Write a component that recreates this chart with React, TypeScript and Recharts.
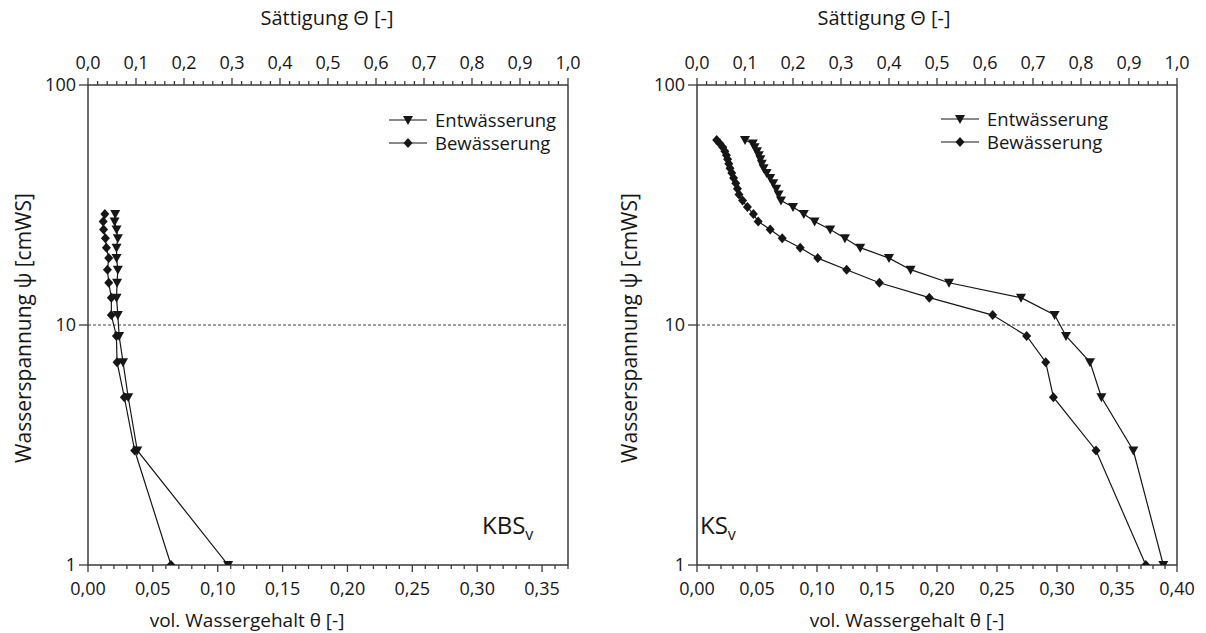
import { ScatterChart, Scatter, XAxis, YAxis, ReferenceLine } from 'recharts'

// Wasserspannung psi [cmWS] at which the points were measured
const psiKBS = [1, 3, 5, 7, 9, 11, 13, 15, 17, 19, 21, 23, 25, 27, 29]
const entKBS = [0.108, 0.038, 0.031, 0.027, 0.024, 0.023, 0.022, 0.0224, 0.023, 0.022, 0.022, 0.023, 0.022, 0.0205, 0.021]
const bewKBS = [0.064, 0.036, 0.028, 0.0224, 0.0219, 0.018, 0.018, 0.016, 0.015, 0.016, 0.0142, 0.0134, 0.012, 0.0117, 0.013]

const psiKS = [1, 3, 5, 7, 9, 11, 13, 15, 17, 19, 21, 23, 25, 27, 29, 31, 33, 35, 37, 39, 41, 43, 45, 47, 49, 51, 53, 55, 57, 59]
const entKS = [
  0.3886, 0.3636, 0.337, 0.3275, 0.3075, 0.298, 0.27, 0.21, 0.178, 0.16, 0.136, 0.1233, 0.111, 0.098, 0.089,
  0.08, 0.07, 0.068, 0.066, 0.0635, 0.061, 0.058, 0.0555, 0.054, 0.0528, 0.0515, 0.05, 0.048, 0.0465, 0.04,
]
const bewKS = [
  0.374, 0.3325, 0.297, 0.2906, 0.2747, 0.2464, 0.1936, 0.152, 0.1247, 0.1006, 0.086, 0.071, 0.061, 0.051, 0.047,
  0.042, 0.038, 0.035, 0.0337, 0.0323, 0.0305, 0.029, 0.0275, 0.0265, 0.0255, 0.0245, 0.0232, 0.0215, 0.019, 0.0164,
]

const yTicks = [1, 10, 100]
// Sättigung scale runs 0..1 on the top axis
const satRange = [0, 1]

const FONT = '"Open Sans", sans-serif'
const AX = '#3a3a3a'
const INK = '#161616'

const fmt = (v: number, d: number) => v.toFixed(d).replace('.', ',')

// minor ticks between majors
function withMinors(max: number, step: number) {
  const out: number[] = []
  for (let i = 0; i * step <= max + 1e-9; i++) out.push(+(i * step).toFixed(4))
  return out
}
const isMult = (v: number, m: number) => Math.abs(v / m - Math.round(v / m)) < 1e-6

function BottomTick(props: any) {
  const { x, y, payload } = props
  const v = payload.value as number
  const major = isMult(v, 0.05)
  return (
    <g>
      <line x1={x} x2={x} y1={y} y2={y + (major ? 7 : 4)} stroke={AX} strokeWidth={1.3} />
      {major && (
        <text x={x} y={y + 30} textAnchor="middle" fontSize={18} fill={INK} fontFamily={FONT}>
          {fmt(v, 2)}
        </text>
      )}
    </g>
  )
}

function TopTick(props: any) {
  const { x, y, payload } = props
  const v = payload.value as number
  const major = isMult(v, 0.1)
  return (
    <g>
      <line x1={x} x2={x} y1={y} y2={y - (major ? 7 : 4)} stroke={AX} strokeWidth={1.3} />
      {major && (
        <text x={x} y={y - 16} textAnchor="middle" fontSize={18} fill={INK} fontFamily={FONT}>
          {fmt(v, 1)}
        </text>
      )}
    </g>
  )
}

function TriDown({ cx, cy }: any) {
  return <path d={`M${cx - 5},${cy - 4}L${cx + 5},${cy - 4}L${cx},${cy + 5}Z`} fill={INK} />
}

function Diamond({ cx, cy }: any) {
  return <path d={`M${cx},${cy - 5}L${cx + 4.5},${cy}L${cx},${cy + 5}L${cx - 4.5},${cy}Z`} fill={INK} />
}

function Nothing() {
  return <g />
}

function LegendBox({ left, top }: { left: number; top: number }) {
  const row = (label: string, marker: 'tri' | 'dia') => (
    <div style={{ display: 'flex', alignItems: 'center', height: 23 }}>
      <svg width={40} height={14} style={{ marginRight: 6 }}>
        <line x1={0} x2={38} y1={7} y2={7} stroke={INK} strokeWidth={1.2} />
        {marker === 'tri' ? <TriDown cx={19} cy={7} /> : <Diamond cx={19} cy={7} />}
      </svg>
      <span style={{ lineHeight: '21px' }}>{label}</span>
    </div>
  )
  return (
    <div style={{ position: 'absolute', left, top, fontFamily: FONT, fontSize: 18.5, color: INK }}>
      {row('Entwässerung', 'tri')}
      {row('Bewässerung', 'dia')}
    </div>
  )
}

function Txt({ x, y, children, rotate, size = 20 }: any) {
  return (
    <div
      style={{
        position: 'absolute',
        left: x,
        top: y,
        transform: `translate(-50%, -50%)${rotate ? ' rotate(-90deg)' : ''}`,
        whiteSpace: 'nowrap',
        fontFamily: FONT,
        fontSize: size,
        lineHeight: 1.1,
        color: INK,
      }}
    >
      {children}
    </div>
  )
}

interface PanelProps {
  psi: number[]
  ent: number[]
  bew: number[]
  xMax: number
  width: number
  left: number
  right: number
}

function Panel({ psi, ent, bew, xMax, width, left, right }: PanelProps) {
  const entData = psi.map((p, i) => ({ theta: ent[i], psi: p }))
  const bewData = psi.map((p, i) => ({ theta: bew[i], psi: p }))
  // anchors the top axis so that it gets its 0..1 scale
  const satData = satRange.map((s) => ({ sat: s, psi: 1 }))
  return (
    <ScatterChart width={width} height={633} margin={{ top: 0, right, bottom: 28, left }}>
      <XAxis
        xAxisId="b"
        dataKey="theta"
        type="number"
        domain={[0, xMax]}
        ticks={withMinors(xMax, 0.01)}
        interval={0}
        tick={(p: any) => <BottomTick {...p} />}
        tickLine={false}
        tickSize={0}
        tickMargin={0}
        axisLine={{ stroke: AX, strokeWidth: 1.5 }}
        height={40}
        allowDataOverflow
      />
      <XAxis
        xAxisId="t"
        dataKey="sat"
        orientation="top"
        type="number"
        domain={[0, 1]}
        ticks={withMinors(1, 0.02)}
        interval={0}
        tick={(p: any) => <TopTick {...p} />}
        tickLine={false}
        tickSize={0}
        tickMargin={0}
        axisLine={{ stroke: AX, strokeWidth: 1.5 }}
        height={85}
        allowDataOverflow
      />
      <YAxis
        yAxisId="l"
        dataKey="psi"
        type="number"
        scale="log"
        domain={[1, 100]}
        ticks={yTicks}
        interval={0}
        allowDataOverflow
        width={60}
        tickSize={9}
        tickMargin={3}
        tick={{ fill: INK, fontSize: 18, fontFamily: FONT }}
        tickLine={{ stroke: AX, strokeWidth: 1.3 }}
        axisLine={{ stroke: AX, strokeWidth: 1.5 }}
      />
      <ReferenceLine xAxisId="b" yAxisId="l" y={10} stroke="#444" strokeWidth={1.1} strokeDasharray="3 2" />
      <ReferenceLine xAxisId="b" yAxisId="l" x={xMax} stroke={AX} strokeWidth={1.5} />
      <Scatter
        xAxisId="t"
        yAxisId="l"
        data={satData}
        shape={Nothing}
        legendType="none"
        isAnimationActive={false}
      />
      <Scatter
        name="Entwässerung"
        xAxisId="b"
        yAxisId="l"
        data={entData}
        line={{ stroke: INK, strokeWidth: 1.2 }}
        lineType="joint"
        shape={TriDown}
        isAnimationActive={false}
      />
      <Scatter
        name="Bewässerung"
        xAxisId="b"
        yAxisId="l"
        data={bewData}
        line={{ stroke: INK, strokeWidth: 1.2 }}
        lineType="joint"
        shape={Diamond}
        isAnimationActive={false}
      />
    </ScatterChart>
  )
}

export default function App() {
  return (
    <div style={{ position: 'absolute', left: 0, top: 0, width: 1206, height: 633, background: '#fff', overflow: 'hidden' }}>
      <div style={{ position: 'absolute', left: 0, top: 0 }}>
        <Panel psi={psiKBS} ent={entKBS} bew={bewKBS} xMax={0.37} width={600} left={28} right={32} />
      </div>
      <div style={{ position: 'absolute', left: 600, top: 0 }}>
        <Panel psi={psiKS} ent={entKS} bew={bewKS} xMax={0.4} width={606} left={37} right={29} />
      </div>

      <Txt x={327} y={18}>Sättigung Θ [-]</Txt>
      <Txt x={884} y={18}>Sättigung Θ [-]</Txt>
      <Txt x={247} y={620} size={19}>vol. Wassergehalt θ [-]</Txt>
      <Txt x={907} y={620} size={19}>vol. Wassergehalt θ [-]</Txt>
      <Txt x={24} y={328} rotate size={21}>Wasserspannung ψ [cmWS]</Txt>
      <Txt x={630} y={328} rotate size={21}>Wasserspannung ψ [cmWS]</Txt>

      <LegendBox left={389} top={108} />
      <LegendBox left={941} top={107} />

      <div style={{ position: 'absolute', left: 482, top: 510, fontFamily: FONT, fontSize: 24, color: INK, lineHeight: '30px' }}>
        KBS<sub style={{ fontSize: 16 }}>v</sub>
      </div>
      <div style={{ position: 'absolute', left: 700, top: 510, fontFamily: FONT, fontSize: 24, color: INK, lineHeight: '30px' }}>
        KS<sub style={{ fontSize: 16 }}>v</sub>
      </div>
    </div>
  )
}
